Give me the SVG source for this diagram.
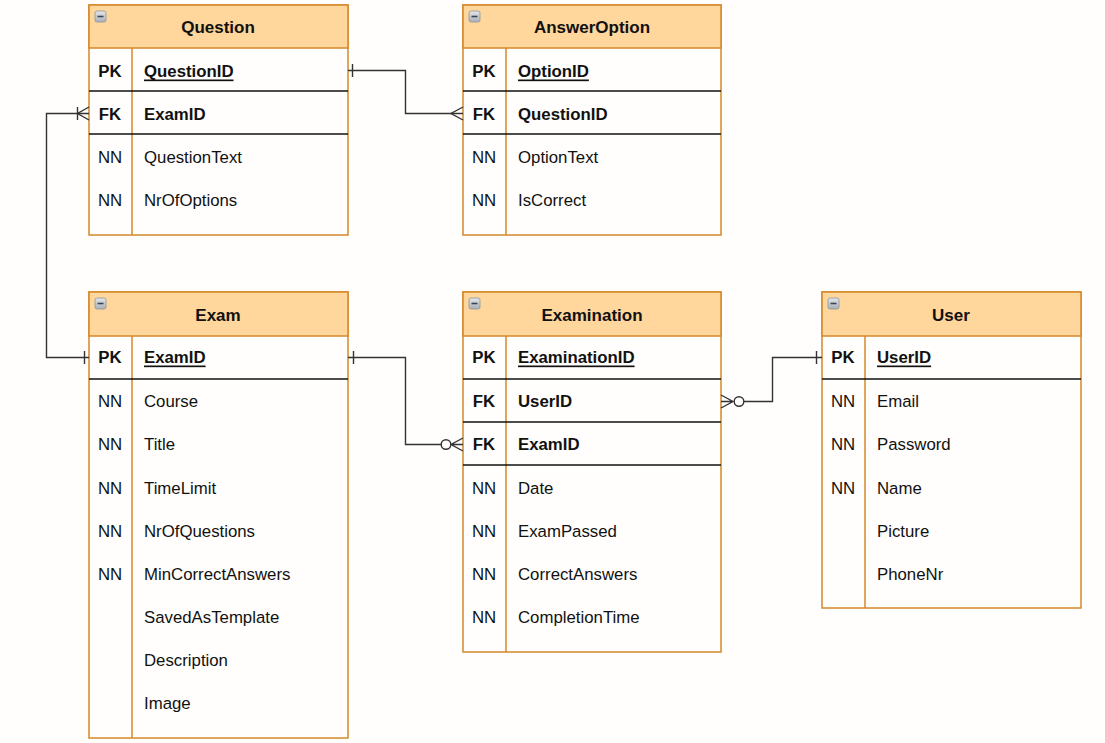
<svg xmlns="http://www.w3.org/2000/svg" width="1105" height="743" viewBox="0 0 1105 743">
  <defs>
    <linearGradient id="iconGrad" x1="0" y1="0" x2="0" y2="1">
      <stop offset="0" stop-color="#e4e7eb"/>
      <stop offset="1" stop-color="#a9afb8"/>
    </linearGradient>
    <g id="collapse">
      <rect x="0" y="0" width="11" height="11" rx="2" fill="url(#iconGrad)" stroke="#8d949d" stroke-width="0.8"/>
      <line x1="2.5" y1="5.5" x2="8.5" y2="5.5" stroke="#3c4450" stroke-width="1.6"/>
    </g>
  </defs>
  <style>
    text { font-family: "Liberation Sans", Arial, sans-serif; font-size: 16.8px; fill: #111; dominant-baseline: central; }
    .title { font-weight: bold; text-anchor: middle; font-size: 17px; }
    .key { font-weight: bold; text-anchor: middle; }
    .nn { text-anchor: middle; }
    .bold { font-weight: bold; }
    .pk { font-weight: bold; text-decoration: underline; }
    .frame { fill: #fffefc; stroke: #d4882a; stroke-width: 1.5; }
    .head { fill: #ffd69b; stroke: #d4882a; stroke-width: 1.5; }
    .col { stroke: #d4882a; stroke-width: 1.5; }
    .sep { stroke: #111; stroke-width: 1.5; }
    .edge { fill: none; stroke: #333; stroke-width: 1.4; }
    .end { fill: #fffefc; stroke: #333; stroke-width: 1.4; }
  </style>

  <rect x="0" y="0" width="1105" height="743" fill="#fffefc"/>

  <!-- Question -->
  <g id="question">
    <rect class="frame" x="89" y="5" width="259" height="230"/>
    <rect class="head" x="89" y="5" width="259" height="43"/>
    <use href="#collapse" x="95" y="11"/>
    <text class="title" x="218" y="27">Question</text>
    <line class="col" x1="132" y1="48" x2="132" y2="235"/>
    <line class="sep" x1="89" y1="91" x2="348" y2="91"/>
    <line class="sep" x1="89" y1="134" x2="348" y2="134"/>
    <text class="key" x="110" y="71">PK</text><text class="pk" x="144" y="71">QuestionID</text>
    <text class="key" x="110" y="114">FK</text><text class="bold" x="144" y="114">ExamID</text>
    <text class="nn" x="110" y="157">NN</text><text x="144" y="157">QuestionText</text>
    <text class="nn" x="110" y="200">NN</text><text x="144" y="200">NrOfOptions</text>
  </g>

  <!-- AnswerOption -->
  <g id="answer-option">
    <rect class="frame" x="463" y="5" width="258" height="230"/>
    <rect class="head" x="463" y="5" width="258" height="43"/>
    <use href="#collapse" x="469" y="11"/>
    <text class="title" x="592" y="27">AnswerOption</text>
    <line class="col" x1="506" y1="48" x2="506" y2="235"/>
    <line class="sep" x1="463" y1="91" x2="721" y2="91"/>
    <line class="sep" x1="463" y1="134" x2="721" y2="134"/>
    <text class="key" x="484" y="71">PK</text><text class="pk" x="518" y="71">OptionID</text>
    <text class="key" x="484" y="114">FK</text><text class="bold" x="518" y="114">QuestionID</text>
    <text class="nn" x="484" y="157">NN</text><text x="518" y="157">OptionText</text>
    <text class="nn" x="484" y="200">NN</text><text x="518" y="200">IsCorrect</text>
  </g>

  <!-- Exam -->
  <g id="exam">
    <rect class="frame" x="89" y="292" width="259" height="446"/>
    <rect class="head" x="89" y="292" width="259" height="44"/>
    <use href="#collapse" x="95" y="298"/>
    <text class="title" x="218" y="315">Exam</text>
    <line class="col" x1="132" y1="336" x2="132" y2="738"/>
    <line class="sep" x1="89" y1="379" x2="348" y2="379"/>
    <text class="key" x="110" y="357">PK</text><text class="pk" x="144" y="357">ExamID</text>
    <text class="nn" x="110" y="401">NN</text><text x="144" y="401">Course</text>
    <text class="nn" x="110" y="444">NN</text><text x="144" y="444">Title</text>
    <text class="nn" x="110" y="488">NN</text><text x="144" y="488">TimeLimit</text>
    <text class="nn" x="110" y="531">NN</text><text x="144" y="531">NrOfQuestions</text>
    <text class="nn" x="110" y="574">NN</text><text x="144" y="574">MinCorrectAnswers</text>
    <text x="144" y="617">SavedAsTemplate</text>
    <text x="144" y="660">Description</text>
    <text x="144" y="703">Image</text>
  </g>

  <!-- Examination -->
  <g id="examination">
    <rect class="frame" x="463" y="292" width="258" height="360"/>
    <rect class="head" x="463" y="292" width="258" height="44"/>
    <use href="#collapse" x="469" y="298"/>
    <text class="title" x="592" y="315">Examination</text>
    <line class="col" x1="506" y1="336" x2="506" y2="652"/>
    <line class="sep" x1="463" y1="379" x2="721" y2="379"/>
    <line class="sep" x1="463" y1="422" x2="721" y2="422"/>
    <line class="sep" x1="463" y1="465" x2="721" y2="465"/>
    <text class="key" x="484" y="357">PK</text><text class="pk" x="518" y="357">ExaminationID</text>
    <text class="key" x="484" y="401">FK</text><text class="bold" x="518" y="401">UserID</text>
    <text class="key" x="484" y="444">FK</text><text class="bold" x="518" y="444">ExamID</text>
    <text class="nn" x="484" y="488">NN</text><text x="518" y="488">Date</text>
    <text class="nn" x="484" y="531">NN</text><text x="518" y="531">ExamPassed</text>
    <text class="nn" x="484" y="574">NN</text><text x="518" y="574">CorrectAnswers</text>
    <text class="nn" x="484" y="617">NN</text><text x="518" y="617">CompletionTime</text>
  </g>

  <!-- User -->
  <g id="user">
    <rect class="frame" x="822" y="292" width="259" height="316"/>
    <rect class="head" x="822" y="292" width="259" height="44"/>
    <use href="#collapse" x="828" y="298"/>
    <text class="title" x="951" y="315">User</text>
    <line class="col" x1="865" y1="336" x2="865" y2="608"/>
    <line class="sep" x1="822" y1="379" x2="1081" y2="379"/>
    <text class="key" x="843" y="357">PK</text><text class="pk" x="877" y="357">UserID</text>
    <text class="nn" x="843" y="401">NN</text><text x="877" y="401">Email</text>
    <text class="nn" x="843" y="444">NN</text><text x="877" y="444">Password</text>
    <text class="nn" x="843" y="488">NN</text><text x="877" y="488">Name</text>
    <text x="877" y="531">Picture</text>
    <text x="877" y="574">PhoneNr</text>
  </g>

  <!-- Relationships -->
  <g id="connectors">
    <!-- Question.QuestionID 1 — * AnswerOption.QuestionID -->
    <path class="edge" d="M348,70.5 H405.5 V113.5 H463"/>
    <line class="edge" x1="352.5" y1="64" x2="352.5" y2="77"/>
    <path class="edge" d="M463,107 L451,113.5 L463,120"/>

    <!-- Exam.ExamID 1 — 1..* Question.ExamID -->
    <path class="edge" d="M89,357.5 H46.5 V113.5 H89"/>
    <line class="edge" x1="84.5" y1="351" x2="84.5" y2="364"/>
    <line class="edge" x1="77.5" y1="107" x2="77.5" y2="120"/>
    <path class="edge" d="M89,107 L77.5,113.5 L89,120"/>

    <!-- Exam.ExamID 1 — 0..* Examination.ExamID -->
    <path class="edge" d="M348,357.5 H405.5 V444.5 H441"/>
    <line class="edge" x1="353.5" y1="351" x2="353.5" y2="364"/>
    <path class="edge" d="M451,444.5 H463 M463,438 L451,444.5 L463,451"/>
    <circle class="end" cx="446" cy="444.5" r="4.8"/>

    <!-- User.UserID 1 — 0..* Examination.UserID -->
    <path class="edge" d="M744,401.5 H772.5 V357.5 H822"/>
    <line class="edge" x1="816.5" y1="351" x2="816.5" y2="364"/>
    <path class="edge" d="M721,401.5 H733 M721,395 L733,401.5 L721,408"/>
    <circle class="end" cx="739" cy="401.5" r="4.8"/>
  </g>
</svg>
